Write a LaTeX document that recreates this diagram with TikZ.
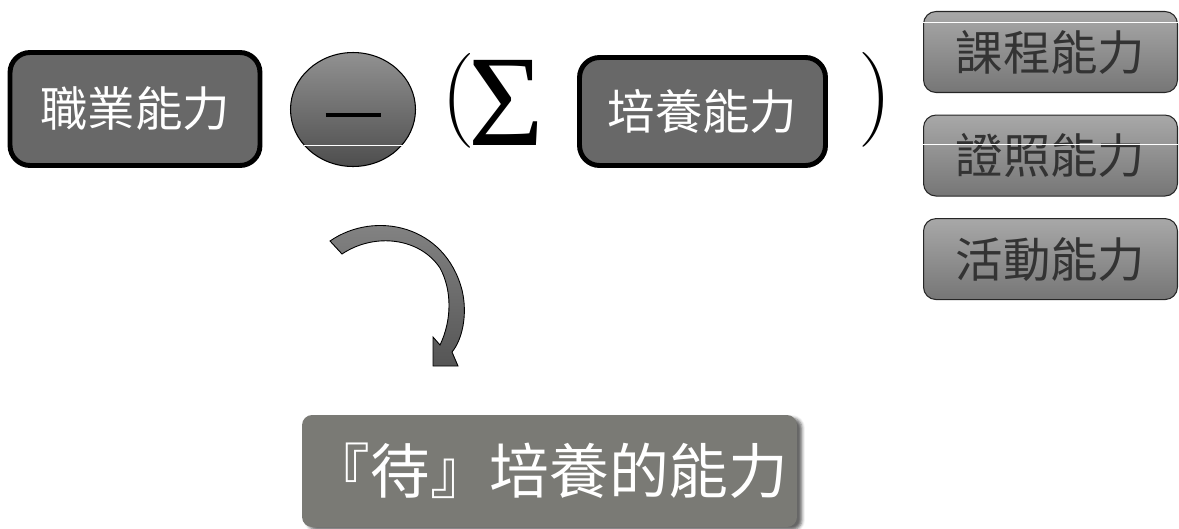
\documentclass[tikz,border=0pt]{standalone}
\usepackage{fontspec}
\newfontfamily\timesfont{Liberation Serif}
\newfontfamily\cjk{Noto Sans CJK TC}
\usepackage{xcolor}
\definecolor{boxgray}{RGB}{104,104,104}
\definecolor{skilltop}{RGB}{168,168,168}
\definecolor{skillbot}{RGB}{118,118,118}
\definecolor{skilltext}{RGB}{51,51,51}
\definecolor{ovaltop}{RGB}{145,145,145}
\definecolor{ovalbot}{RGB}{78,78,78}
\definecolor{arrowtop}{RGB}{135,135,135}
\definecolor{arrowbot}{RGB}{85,85,85}
\definecolor{slate}{RGB}{122,122,117}
\usepackage{tikz}
\usetikzlibrary{positioning, shapes.geometric, shadows.blur}

\begin{document}
\begin{tikzpicture}[x=0.02cm, y=-0.02cm,
  darkbox/.style={draw=black, line width=2.8pt, fill=boxgray, rounded corners=0.4cm,
      text=white, font=\cjk\fontsize{27}{30}\selectfont, inner sep=0pt},
  skillbox/.style={draw=black!85, line width=0.6pt, top color=skilltop, bottom color=skillbot,
      rounded corners=0.25cm, minimum width=5.08cm, minimum height=1.62cm,
      text=skilltext, font=\cjk\fontsize{27}{30}\selectfont, inner sep=0pt},
  bigsym/.style={font=\fontsize{54}{54}\selectfont, inner sep=0pt}]

\useasboundingbox (0,0) rectangle (1179,528);

% --- Top row: job ability minus sum of trained abilities ---
\node[darkbox, minimum width=5cm, minimum height=2.26cm] (job) at (135,109) {職業能力};

% Minus oval
\node[ellipse, draw=black, line width=0.6pt, top color=ovaltop, bottom color=ovalbot,
      minimum width=2.5cm, minimum height=2.28cm] (minus) at (353,109.5) {};
\draw[black, line width=0.08cm] ([xshift=-0.55cm, yshift=-0.1cm]minus.center)
      -- ([xshift=0.55cm, yshift=-0.1cm]minus.center);
\draw[white, line width=0.4pt] (303.5,145) -- (402.5,145);

% Sum in brackets
\node[bigsym, anchor=base west] (lsum) at (441,145)
  {\raisebox{0.42cm}{(}\kern-0.12cm{\timesfont\fontsize{74}{74}\selectfont Σ}};
\node[darkbox, minimum width=4.92cm, minimum height=2.16cm] (train) at (702.5,111.5) {培養能力};
\node[bigsym] (rparen) at (875,100) {)};

% --- Right column: kinds of trained ability ---
\node[skillbox] (course) at (1050.5,52) {課程能力};
\node[skillbox, below=0.43cm of course] (cert) {證照能力};
\node[skillbox, below=0.43cm of cert] (activity) {活動能力};
\draw[white, line width=0.4pt] ([yshift=-0.22cm]course.north west) -- ([yshift=-0.22cm]course.north east);
\draw[white, line width=0.4pt] ([yshift=0.22cm]cert.west) -- ([yshift=0.22cm]cert.east);

% Curved arrow
\draw[black, line width=0.5pt, top color=arrowtop, bottom color=arrowbot]
  (330,241) .. controls (375,210) and (445,225) .. (462,290)
  .. controls (468,315) and (462,340) .. (452,352)
  -- (458,366) -- (433,366) -- (433,337) -- (440,345)
  .. controls (452,320) and (452,290) .. (440,268)
  .. controls (420,238) and (375,232) .. (342,254) -- cycle;

% --- Result ---
\node[fill=slate, rounded corners=0.2cm, minimum width=9.9cm, minimum height=2.24cm,
      blur shadow={shadow xshift=0.1cm, shadow yshift=-0.06cm, shadow opacity=60},
      text=white, font=\cjk\fontsize{34}{36}\selectfont] (result) at (549.5,471) {『待』培養的能力};

\end{tikzpicture}
\end{document}
